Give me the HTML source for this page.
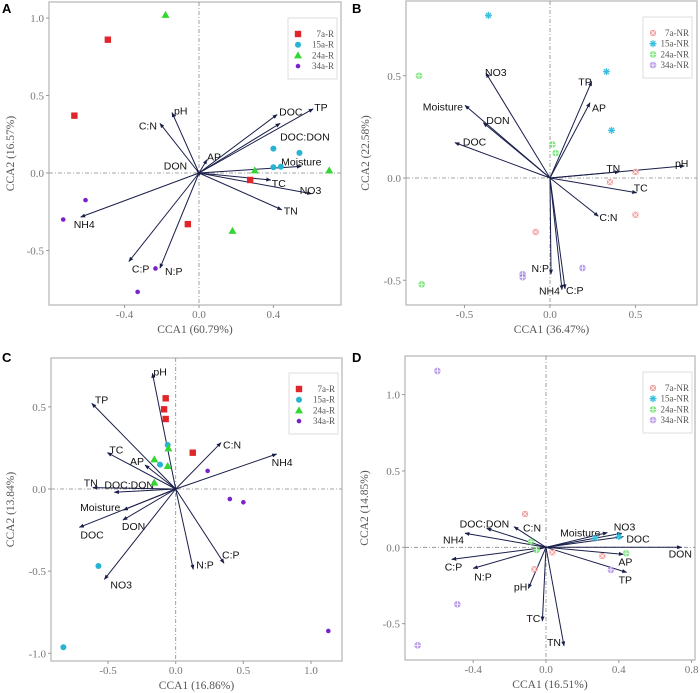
<!DOCTYPE html>
<html><head><meta charset="utf-8"><style>
body{margin:0;background:#fff}
svg{display:block}
.tk{font-family:"Liberation Serif",serif;font-size:11px;fill:#777}
.at{font-family:"Liberation Serif",serif;font-size:11.5px;fill:#555}
.al{font-family:"Liberation Sans",sans-serif;font-size:10.5px;fill:#111}
.lg{font-family:"Liberation Serif",serif;font-size:9px;fill:#555}
.pl{font-family:"Liberation Sans",sans-serif;font-size:13px;font-weight:bold;fill:#000}
</style></head><body>
<svg id="chart" width="700" height="693" xmlns="http://www.w3.org/2000/svg">
<defs><marker id="ah" viewBox="0 0 10 10" refX="9" refY="5" markerWidth="5" markerHeight="5" orient="auto"><path d="M0,1 L10,5 L0,9 z" fill="#1a1f4a"/></marker></defs>
</svg>
<script>
// ---- Panel A data ----
const aGroups=["7a-R","15a-R","24a-R","34a-R"];
const aPtX=[[-0.49,-0.67,0.275,-0.06],[0.4,0.54,0.4,0.44],[-0.18,0.3,0.70,0.18],[-0.61,-0.73,-0.234,-0.33]];
const aPtY=[[0.86,0.37,-0.045,-0.33],[0.157,0.13,0.037,0.04],[1.02,0.017,0.017,-0.373],[-0.175,-0.30,-0.616,-0.767]];
const aVars=["pH","C:N","AP","DOC","DOC:DON","TP","Moisture","TC","NO3","TN","NH4","C:P","N:P","DON"];
const aVx=[-0.145,-0.21,0.043,0.42,0.436,0.614,0.55,0.386,0.605,0.445,-0.636,-0.377,-0.21,-0.01];
const aVy=[0.39,0.32,0.086,0.377,0.32,0.414,0.043,-0.045,-0.134,-0.237,-0.284,-0.571,-0.614,0.01];
const aXTicks=[-0.4,0.0,0.4], aYTicks=[1.0,0.5,0.0,-0.5];
// ---- Panel B data ----
const bGroups=["7a-NR","15a-NR","24a-NR","34a-NR"];
const bPtX=[[0.5,0.35,0.5,-0.084],[-0.36,0.33,0.36],[-0.766,0.014,0.033,-0.75],[-0.16,-0.16,0.19]];
const bPtY=[[0.03,-0.02,-0.18,-0.264],[0.795,0.52,0.233],[0.5,0.164,0.122,-0.52],[-0.47,-0.485,-0.44]];
const bVars=["NO3","Moisture","DON","DOC","TP","AP","TN","pH","TC","C:N","N:P","NH4","C:P"];
const bVx=[-0.374,-0.497,-0.39,-0.556,0.244,0.234,0.405,0.786,0.507,0.283,0.006,0.07,0.088];
const bVy=[0.513,0.355,0.27,0.173,0.472,0.368,0.03,0.059,-0.072,-0.187,-0.47,-0.546,-0.542];
const bXTicks=[-0.5,0.0,0.5], bYTicks=[0.5,0.0,-0.5];
// ---- Panel C data ----
const cGroups=["7a-R","15a-R","24a-R","34a-R"];
const cPtX=[[-0.074,-0.086,-0.074,0.126],[-0.059,-0.116,-0.571,-0.83],[-0.054,-0.158,-0.059,-0.158],[0.236,0.40,0.5,1.128]];
const cPtY=[[0.552,0.485,0.426,0.221],[0.268,0.148,-0.469,-0.963],[0.247,0.18,0.14,0.039],[0.11,-0.061,-0.081,-0.864]];
const cVars=["pH","TP","TC","AP","C:N","NH4","TN","DOC:DON","Moisture","DON","DOC","NO3","N:P","C:P"];
const cVx=[-0.172,-0.62,-0.505,-0.227,0.335,0.746,-0.613,-0.453,-0.387,-0.39,-0.712,-0.527,0.13,0.357];
const cVy=[0.704,0.521,0.221,0.146,0.282,0.213,0.008,-0.02,-0.128,-0.189,-0.233,-0.55,-0.489,-0.452];
const cXTicks=[-0.5,0.0,0.5,1.0], cYTicks=[0.5,0.0,-0.5,-1.0];
// ---- Panel D data ----
const dGroups=["7a-NR","15a-NR","24a-NR","34a-NR"];
const dPtX=[[-0.115,0.035,-0.064,0.31],[0.27,0.40],[-0.082,-0.051,0.44],[-0.597,-0.487,-0.705,0.357]];
const dPtY=[[0.218,-0.033,-0.144,-0.057],[0.06,0.07],[0.037,-0.017,-0.039],[1.155,-0.373,-0.642,-0.148]];
const dVars=["DOC:DON","C:N","NH4","C:P","N:P","pH","TC","TN","Moisture","NO3","DOC","DON","AP","TP"];
const dVx=[-0.326,-0.176,-0.445,-0.518,-0.4,-0.097,-0.02,0.099,0.337,0.416,0.425,0.745,0.425,0.443];
const dVy=[0.124,0.135,0.092,-0.079,-0.138,-0.269,-0.483,-0.646,0.096,0.092,0.07,0,-0.046,-0.164];
const dXTicks=[-0.4,0.0,0.4,0.8], dYTicks=[1.0,0.5,0.0,-0.5];

// label placement styles (anchor, pixel offset from arrow tip) - presentation only
const aLab=[["start",2,-1],["end",-3,3],["start",0,-2],["start",2,-2],["start",0,14],["start",1,-1],["middle",0,-4],["start",1,4],["middle",-1,-3],["start",2,2],["start",-7,8],["start",3,8],["start",5,4],["end",-10,-5]];
const bLab=[["start",-1,0],["end",-2,2],["start",3,-2],["start",8,0],["end",0,1],["start",2,6],["end",1,-3],["end",4,-2],["start",-3,-4],["start",1,2],["end",-2,-5],["end",-2,2],["start",1,2]];
const cLab=[["start",1,-1],["start",3,-3],["start",2,-2],["end",-1,-3],["start",2,3],["start",-5,9],["start",-9,-4],["start",-10,-7],["end",-3,-2],["start",-1,7],["start",1,8],["start",6,6],["start",3,-4],["start",-2,-8]];
const dLab=[["start",-27,-4],["start",9,2],["end",-1,7],["start",-7,8],["start",1,9],["end",-1,-1],["end",-2,-2],["end",-3,-3],["end",-7,1],["start",-8,-6],["start",3,3],["start",-13,7],["start",-5,8],["start",-8,8]];

const NS="http://www.w3.org/2000/svg";
const svg=document.getElementById('chart');
function mk(tag,attrs,parent){const e=document.createElementNS(NS,tag);for(const k in attrs)e.setAttribute(k,attrs[k]);(parent||svg).appendChild(e);return e;}
function fmt(v){return (v<0?'-':'')+Math.abs(v).toFixed(1);}

const colR=["#e0262a","#27b3d2","#33d633","#7a22c8"];
const colNR=["#f07a7a","#3cc0e0","#55dd55","#a07ae0"];

function marker(g,type,col,x,y,nr){
  if(!nr){
    if(type===0) return mk('rect',{x:x-3.2,y:y-3.2,width:6.4,height:6.4,fill:col},g);
    if(type===1) return mk('circle',{cx:x,cy:y,r:3,fill:col},g);
    if(type===2) return mk('path',{d:`M${x},${y-4} L${x+4},${y+3} L${x-4},${y+3}Z`,fill:col},g);
    return mk('circle',{cx:x,cy:y,r:2.3,fill:col},g);
  } else {
    const gg=mk('g',{},g);
    if(type===0){mk('rect',{x:x-3,y:y-3,width:6,height:6,fill:col,opacity:0.7},gg);mk('path',{d:`M${x-3},${y-3}L${x+3},${y+3}M${x+3},${y-3}L${x-3},${y+3}`,stroke:'#fff','stroke-width':0.8},gg);}
    else if(type===1){mk('path',{d:`M${x-3.5},${y}L${x+3.5},${y}M${x},${y-3.5}L${x},${y+3.5}M${x-2.5},${y-2.5}L${x+2.5},${y+2.5}M${x+2.5},${y-2.5}L${x-2.5},${y+2.5}`,stroke:col,'stroke-width':1.3},gg);}
    else {mk('circle',{cx:x,cy:y,r:3.3,fill:col,opacity:0.75},gg);mk('path',{d:`M${x-3},${y}L${x+3},${y}M${x},${y-3}L${x},${y+3}`,stroke:'#fff','stroke-width':0.8},gg);}
    return gg;
  }
}

function panel(p){
  const g=mk('g',{});
  
  
  const sx=v=>p.x0+v*p.kx, sy=v=>p.y0-v*p.ky;
  const L=p.L,R=p.R,T=p.T,B=p.B;
  const fr=mk('rect',{x:L,y:T,width:R-L,height:B-T,fill:'none',stroke:'#b5b5b5','stroke-width':1.2},g);
  
  mk('line',{x1:L,x2:R,y1:sy(0),y2:sy(0),stroke:'#888','stroke-width':0.8,'stroke-dasharray':'4,2,1,2'},g);
  mk('line',{x1:sx(0),x2:sx(0),y1:T,y2:B,stroke:'#888','stroke-width':0.8,'stroke-dasharray':'4,2,1,2'},g);
  p.xt.forEach(v=>{const x=sx(v);mk('line',{x1:x,x2:x,y1:B,y2:B+3,stroke:'#999'},g);
    const t=mk('text',{x:x,y:B+13,'text-anchor':'middle',class:'tk'},g);t.textContent=fmt(v);
    });
  p.yt.forEach(v=>{const y=sy(v);mk('line',{x1:L-3,x2:L,y1:y,y2:y,stroke:'#999'},g);
    const t=mk('text',{x:L-5,y:y+4,'text-anchor':'end',class:'tk'},g);t.textContent=fmt(v);
    });
  const xt=mk('text',{x:(L+R)/2,y:B+28,'text-anchor':'middle',class:'at'},g);xt.textContent=p.xl;
  
  const yc=(T+B)/2;
  const yt=mk('text',{x:p.ylx,y:yc,'text-anchor':'middle',class:'at',transform:`rotate(-90 ${p.ylx} ${yc})`},g);yt.textContent=p.yl;
  
  const pl=mk('text',{x:p.lx,y:p.ly,class:'pl'},g);pl.textContent=p.id;
  
  p.vars.forEach((n,i)=>{
    const x2=sx(p.vx[i]),y2=sy(p.vy[i]);
    const a=mk('line',{x1:sx(0),y1:sy(0),x2:x2,y2:y2,stroke:'#1a1f4a','stroke-width':1,'marker-end':'url(#ah)'},g);
    
    
    const lab=p.lab[i];
    const t=mk('text',{x:x2+lab[1],y:y2+lab[2]+3,'text-anchor':lab[0],class:'al'},g);
    t.textContent=n;
    
  });
  p.px.forEach((arr,gi)=>arr.forEach((v,j)=>{
    const m=marker(g,gi,(p.nr?colNR:colR)[gi],sx(v),sy(p.py[gi][j]),p.nr);
    
    
  }));
  const lg=mk('g',{},g);
  
  mk('rect',{x:p.lgx,y:p.lgy,width:49,height:61,fill:'#fff',stroke:'#ddd'},lg);
  p.groups.forEach((n,i)=>{
    const yy=p.lgy+19+i*10.7;
    const e=mk('g',{},lg);
    
    marker(e,i,(p.nr?colNR:colR)[i],p.lgx+10,yy-3,p.nr);
    const t=mk('text',{x:p.lgx+46,y:yy,'text-anchor':'end',class:'lg'},e);t.textContent=n;
  });
}

panel({id:'A',x0:199,y0:173,kx:186,ky:155,L:49,R:341,T:2,B:305,xt:aXTicks,yt:aYTicks,xl:'CCA1 (60.79%)',yl:'CCA2 (16.57%)',ylx:14,lx:2,ly:13,
  vars:aVars,vx:aVx,vy:aVy,lab:aLab,px:aPtX,py:aPtY,groups:aGroups,nr:false,lgx:288,lgy:18});
panel({id:'B',x0:550,y0:178,kx:171,ky:204.5,L:406,R:697,T:1,B:305,xt:bXTicks,yt:bYTicks,xl:'CCA1 (36.47%)',yl:'CCA2 (22.58%)',ylx:369,lx:352,ly:13,
  vars:bVars,vx:bVx,vy:bVy,lab:bLab,px:bPtX,py:bPtY,groups:bGroups,nr:true,lgx:643,lgy:17});
panel({id:'C',x0:175.7,y0:489,kx:135.3,ky:164.3,L:51,R:342,T:358,B:661,xt:cXTicks,yt:cYTicks,xl:'CCA1 (16.86%)',yl:'CCA2 (13.84%)',ylx:14,lx:2,ly:362,
  vars:cVars,vx:cVx,vy:cVy,lab:cLab,px:cPtX,py:cPtY,groups:cGroups,nr:false,lgx:289,lgy:373});
panel({id:'D',x0:546,y0:547.3,kx:182,ky:152.7,L:405,R:695,T:356,B:660,xt:dXTicks,yt:dYTicks,xl:'CCA1 (16.51%)',yl:'CCA2 (14.85%)',ylx:368,lx:352,ly:362,
  vars:dVars,vx:dVx,vy:dVy,lab:dLab,px:dPtX,py:dPtY,groups:dGroups,nr:true,lgx:643,lgy:372});
</script>
</body></html>
